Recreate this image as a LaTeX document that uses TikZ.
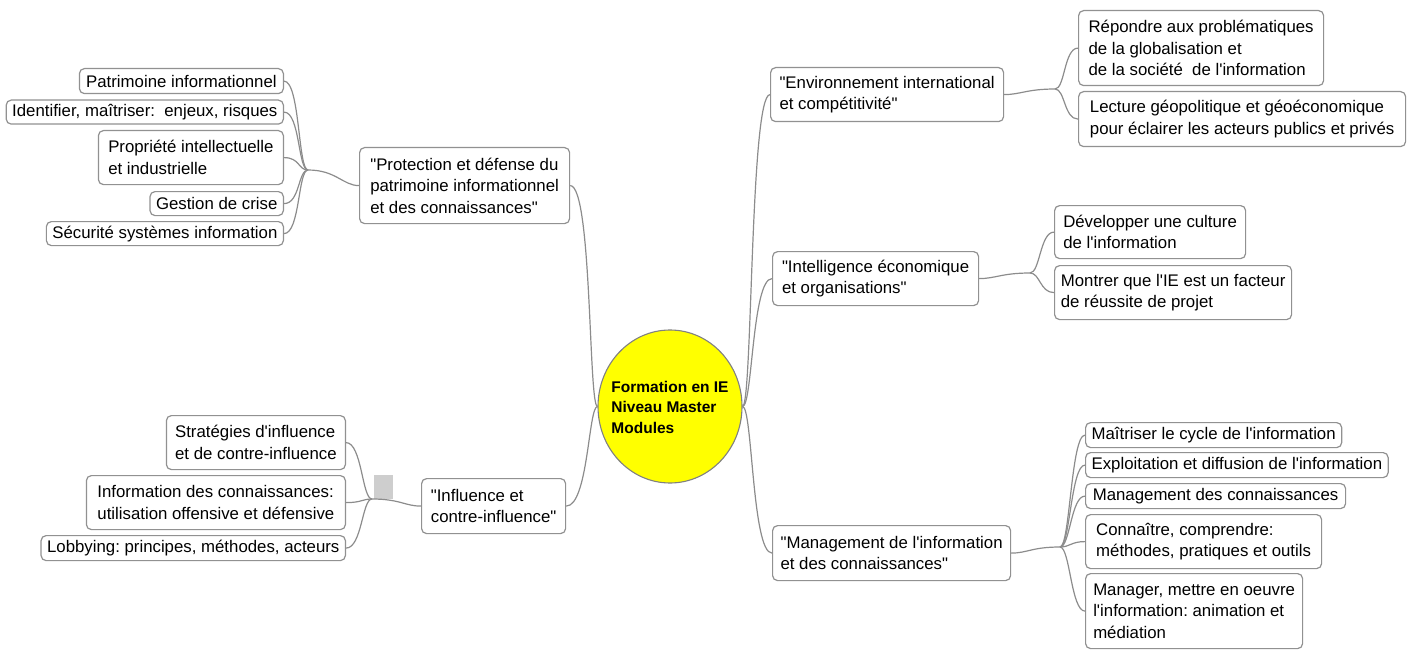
\documentclass[tikz,border=0pt]{standalone}
\usepackage{fontspec}
\setmainfont{Liberation Sans}[Ligatures=TeXOff]
\usetikzlibrary{shapes.geometric}
\definecolor{edgegray}{RGB}{145,145,145}
\definecolor{linkgray}{RGB}{140,140,140}
\definecolor{knob}{RGB}{206,206,206}
\definecolor{hubyellow}{RGB}{255,255,0}
\frenchspacing
\begin{document}
\begin{tikzpicture}[x=1pt,y=-1pt,
  box/.style={draw=edgegray, line width=1.2pt, rounded corners=5pt, fill=white,
    align=left, inner xsep=6pt, inner ysep=0pt,
    font=\fontsize{16.8}{21.5}\selectfont},
  link/.style={draw=linkgray, line width=1.2pt}]
\useasboundingbox (0,0) rectangle (1411,650);

% central topic
\node[ellipse, draw=gray, line width=1.1pt, fill=hubyellow, minimum width=144pt,
  minimum height=153pt, inner sep=0pt] (hub) at (670,406.5) {};
\node[align=left, font=\fontsize{15.5}{20.5}\selectfont\bfseries] (hubtext) at (670,407)
  {Formation en IE\\Niveau Master\\Modules};

% main branches
\node[box, anchor=north west, minimum width=210pt, minimum height=76pt] (prot) at (359,147)
  {"Protection et défense du\\patrimoine informationnel\\et des connaissances"};
\node[box, anchor=north west, minimum width=144pt, minimum height=55pt] (infl) at (421,478)
  {"Influence et\\contre-influence"};
\node[box, anchor=north west, minimum width=233pt, minimum height=54pt] (env) at (770,67)
  {"Environnement international\\et compétitivité"};
\node[box, anchor=north west, minimum width=206pt, minimum height=54pt] (intel) at (772,251)
  {"Intelligence économique\\et organisations"};
\node[box, anchor=north west, minimum width=238pt, minimum height=55pt] (mgmt) at (772,525)
  {"Management de l'information\\et des connaissances"};

% protection sub-topics
\node[box, anchor=north east, minimum width=204pt, minimum height=25pt] (p1) at (284,68)
  {Patrimoine informationnel};
\node[box, anchor=north east, minimum width=276pt, minimum height=24pt] (p2) at (284,99.5)
  {Identifier, maîtriser:~ enjeux, risques};
\node[box, anchor=north east, minimum width=185pt, minimum height=54pt] (p3) at (284,130)
  {Propriété intellectuelle\\et industrielle};
\node[box, anchor=north east, minimum width=133pt, minimum height=24pt] (p4) at (284,191)
  {Gestion de crise};
\node[box, anchor=north east, minimum width=237pt, minimum height=24pt] (p5) at (284,221)
  {Sécurité systèmes information};

% influence sub-topics
\node[box, anchor=north east, minimum width=179pt, minimum height=54pt] (i1) at (346,415)
  {Stratégies d'influence\\et de contre-influence};
\node[box, anchor=north east, minimum width=259pt, minimum height=54pt] (i2) at (346,475)
  {Information des connaissances:\\utilisation offensive et défensive};
\node[box, anchor=north east, minimum width=303pt, minimum height=25pt] (i3) at (346,535)
  {Lobbying: principes, méthodes, acteurs};
\node[fill=knob, inner sep=0pt, minimum width=19pt, minimum height=24pt, anchor=south west]
  (tab) at (374,499) {};

% environment sub-topics
\node[box, anchor=north west, minimum width=245pt, minimum height=75pt] (e1) at (1078,10)
  {Répondre aux problématiques\\de la globalisation et\\de la société~ de l'information};
\node[box, anchor=north west, minimum width=327pt, minimum height=55pt] (e2) at (1078,91)
  {Lecture géopolitique et géoéconomique\\pour éclairer les acteurs publics et privés};

% economic intelligence sub-topics
\node[box, anchor=north west, minimum width=191pt, minimum height=53pt] (o1) at (1054,205)
  {Développer une culture\\de l'information};
\node[box, anchor=north west, minimum width=237pt, minimum height=54pt] (o2) at (1054,265)
  {Montrer que l'IE est un facteur\\de réussite de projet};

% knowledge management sub-topics
\node[box, anchor=north west, minimum width=252pt, minimum height=25pt] (m1) at (1085,422)
  {Maîtriser le cycle de l'information};
\node[box, anchor=north west, minimum width=300pt, minimum height=25pt] (m2) at (1085,452)
  {Exploitation et diffusion de l'information};
\node[box, anchor=north west, minimum width=260pt, minimum height=25pt] (m3) at (1085,483)
  {Management des connaissances};
\node[box, anchor=north west, minimum width=236pt, minimum height=54pt] (m4) at (1085,514)
  {Connaître, comprendre:\\méthodes, pratiques et outils};
\node[box, anchor=north west, minimum width=217pt, minimum height=75pt] (m5) at (1085,573)
  {Manager, mettre en oeuvre\\l'information: animation et\\médiation};

% branch junctions
\coordinate (jp) at (308,170);
\coordinate (ji) at (372,499);
\coordinate (je) at (1055,89);
\coordinate (jo) at (1030,273);
\coordinate (jm) at (1060,547);

% hub connectors
\draw[link] (hub.west) .. controls +(-9,0) and +(22,0) .. (prot.east);
\draw[link] (hub.west) .. controls +(-9,0) and +(22,0) .. (infl.east);
\draw[link] (hub.east) .. controls +(10,0) and +(-20,0) .. (env.west);
\draw[link] (hub.east) .. controls +(10,0) and +(-20,0) .. (intel.west);
\draw[link] (hub.east) .. controls +(10,0) and +(-20,0) .. (mgmt.west);

% left clusters
\draw[link] (prot.west) .. controls +(-16,0) and +(28,0) .. (jp);
\foreach \n in {p1,p2,p3,p4,p5}
  \draw[link] (jp) .. controls +(-10,0) and +(16,0) .. (\n.east);
\draw[link] (infl.west) .. controls +(-16,0) and +(28,0) .. (ji);
\foreach \n in {i1,i2,i3}
  \draw[link] (ji) .. controls +(-10,0) and +(16,0) .. (\n.east);

% right clusters
\draw[link] (env.east) .. controls +(16,0) and +(-28,0) .. (je);
\foreach \n in {e1,e2}
  \draw[link] (je) .. controls +(10,0) and +(-14,0) .. (\n.west);
\draw[link] (intel.east) .. controls +(16,0) and +(-28,0) .. (jo);
\foreach \n in {o1,o2}
  \draw[link] (jo) .. controls +(10,0) and +(-14,0) .. (\n.west);
\draw[link] (mgmt.east) .. controls +(16,0) and +(-28,0) .. (jm);
\foreach \n in {m1,m2,m3,m4,m5}
  \draw[link] (jm) .. controls +(10,0) and +(-14,0) .. (\n.west);
\end{tikzpicture}
\end{document}
